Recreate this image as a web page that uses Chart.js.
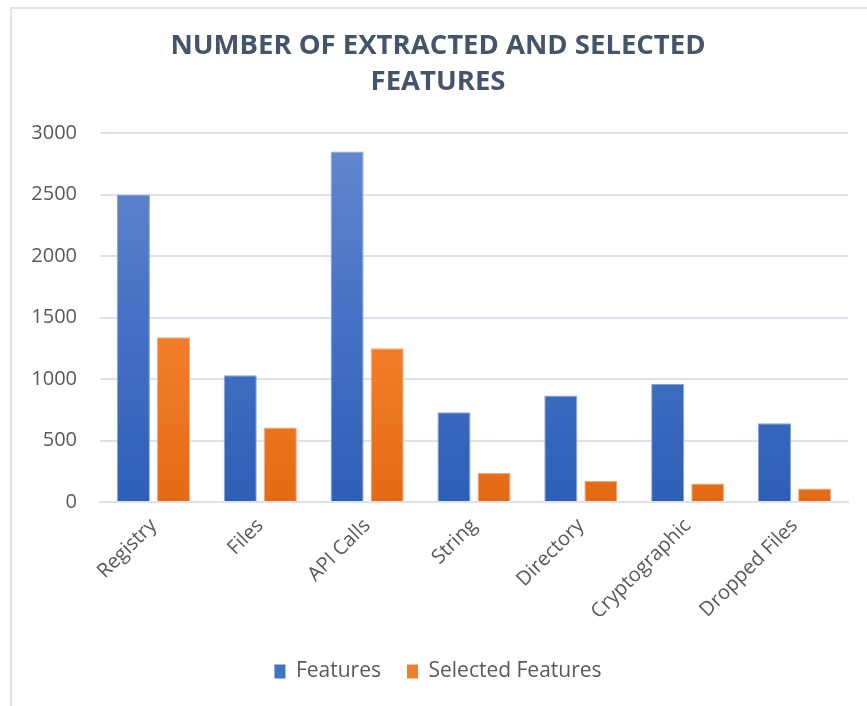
<!DOCTYPE html>
<html>
<head>
<meta charset="utf-8">
<script src="https://cdn.jsdelivr.net/npm/chart.js@4.4.1/dist/chart.umd.min.js"></script>
<style>
  body { margin: 0; background: #fff; }
  #wrap { position: relative; width: 867px; height: 706px; }
  #frame { position: absolute; left: 10px; top: 7px; right: 0; bottom: 0;
           border-left: 2px solid #dfe3ea; border-top: 2px solid #dfe3ea; }
  #featChart { position: absolute; left: 0; top: 0; }
</style>
</head>
<body>
<div id="wrap">
  <div id="frame"></div>
  <canvas id="featChart" width="867" height="706"></canvas>
</div>
<script>
// Feature counts per category
const categories = ['Registry', 'Files', 'API Calls', 'String', 'Directory', 'Cryptographic', 'Dropped Files'];
const extracted = [2500, 1030, 2850, 730, 865, 960, 640];
const selected = [1340, 605, 1250, 235, 170, 150, 110];
const yTicks = [0, 500, 1000, 1500, 2000, 2500, 3000];

const FONT = '"Open Sans", sans-serif';
const TEXT = '#595959';
const GRID = '#dde1e9';

// vertical gradient fill spanning the plot area
function grad(top, mid, bottom) {
    return function (ctx) {
        const area = ctx.chart.chartArea;
        if (!area) return mid;
        const g = ctx.chart.ctx.createLinearGradient(0, area.top, 0, area.bottom);
        g.addColorStop(0, top);
        g.addColorStop(0.5, mid);
        g.addColorStop(1, bottom);
        return g;
    };
}

new Chart(document.getElementById('featChart').getContext('2d'), {
    type: 'bar',
    data: {
        labels: categories,
        datasets: [{
            label: 'Features',
            data: extracted,
            backgroundColor: grad('#6688cf', '#4472c4', '#2e5fb7'),
            borderColor: '#86a2da',
            borderWidth: 1
        }, {
            label: 'Selected Features',
            data: selected,
            backgroundColor: grad('#f29a66', '#f5802b', '#e46b16'),
            borderColor: '#f4ab80',
            borderWidth: 1
        }]
    },
    options: {
        responsive: false,
        animation: false,
        categoryPercentage: 0.75,
        barPercentage: 0.825,
        layout: { padding: { left: 28, right: 19, top: 8, bottom: 14 } },
        plugins: {
            title: {
                display: true,
                text: ['NUMBER OF EXTRACTED AND SELECTED', 'FEATURES'],
                color: '#44546a',
                font: { family: FONT, size: 27.5, weight: 'bold', lineHeight: 1.31 },
                padding: { top: 20, bottom: 33 }
            },
            legend: {
                position: 'bottom',
                labels: {
                    color: TEXT,
                    font: { family: FONT, size: 21 },
                    boxWidth: 11,
                    boxHeight: 14,
                    padding: 26,
                    generateLabels(chart) {
                        const items = Chart.defaults.plugins.legend.labels.generateLabels(chart);
                        const solid = ['#4472c4', '#f07f2a'];
                        items.forEach((it, i) => {
                            it.fillStyle = solid[i];
                            it.strokeStyle = solid[i];
                            it.lineWidth = 0;
                        });
                        return items;
                    }
                }
            },
            tooltip: { enabled: false }
        },
        scales: {
            x: {
                grid: { display: false },
                border: { color: GRID, width: 2 },
                ticks: {
                    color: TEXT,
                    font: { family: FONT, size: 20 },
                    minRotation: 45,
                    maxRotation: 45,
                    padding: 4
                },
                afterFit(scale) { scale.height = 133; }
            },
            y: {
                min: 0,
                max: 3000,
                afterBuildTicks(scale) {
                    scale.ticks = yTicks.map(v => ({ value: v }));
                },
                grid: { color: GRID, lineWidth: 2, drawTicks: false },
                border: { display: false },
                ticks: {
                    color: TEXT,
                    font: { family: FONT, size: 20 },
                    padding: 23,
                    callback: v => String(v)
                },
                afterFit(scale) { scale.width = 72; }
            }
        }
    }
});
</script>
</body>
</html>
